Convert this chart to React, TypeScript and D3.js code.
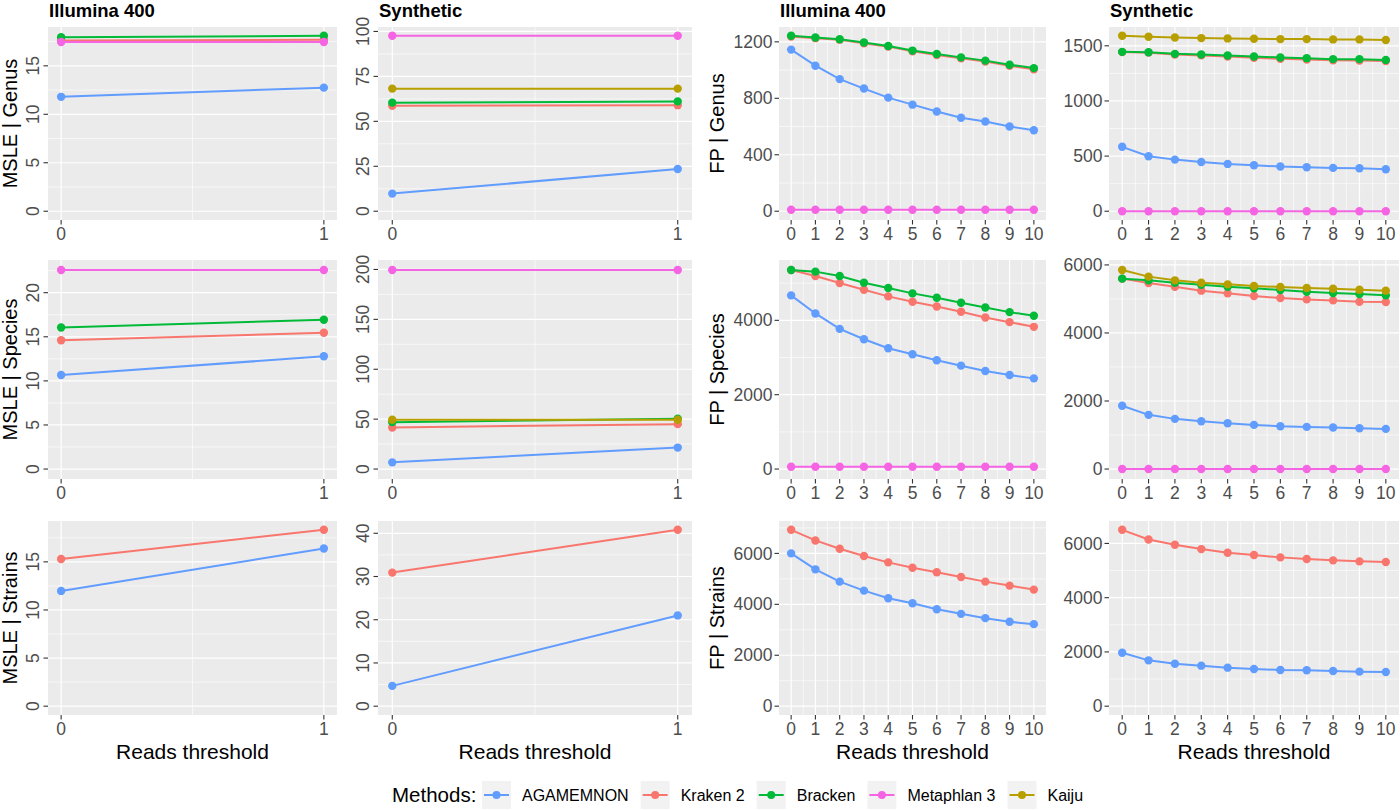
import React from 'react';
import * as d3 from 'd3';

const methods = ['AGAMEMNON', 'Kraken 2', 'Bracken', 'Metaphlan 3', 'Kaiju'];
const methodColors = ['#619CFF', '#F8766D', '#00BA38', '#F564E3', '#B79F00'];

const readsShort = [0, 1];
const readsLong = [0, 1, 2, 3, 4, 5, 6, 7, 8, 9, 10];

const colTitles = ['Illumina 400', 'Synthetic', 'Illumina 400', 'Synthetic'];
const levels = ['Genus', 'Species', 'Strains'];

// MSLE, genus
const msleGenusIllumina = {
  AGAMEMNON: [11.8, 12.75],
  'Kraken 2': [17.6, 17.7],
  Bracken: [17.95, 18.1],
  'Metaphlan 3': [17.45, 17.45]
};
const msleGenusSynthetic = {
  AGAMEMNON: [9.8, 23.5],
  'Kraken 2': [58.7, 59],
  Bracken: [60.4, 61.1],
  'Metaphlan 3': [97.6, 97.6],
  Kaiju: [68.2, 68.2]
};
// FP, genus
const fpGenusIllumina = {
  AGAMEMNON: [1145, 1031, 936, 869, 805, 755, 707, 662, 636, 600, 574],
  'Kraken 2': [1238, 1226, 1214, 1190, 1166, 1133, 1106, 1083, 1060, 1030, 1006],
  Bracken: [1243, 1231, 1219, 1195, 1171, 1138, 1114, 1090, 1067, 1038, 1014],
  'Metaphlan 3': [10, 10, 10, 10, 10, 10, 10, 10, 10, 10, 10]
};
const fpGenusSynthetic = {
  AGAMEMNON: [584, 499, 468, 447, 429, 417, 405, 399, 393, 390, 380],
  'Kraken 2': [1443, 1438, 1421, 1413, 1403, 1392, 1382, 1375, 1368, 1366, 1362],
  Bracken: [1445, 1442, 1427, 1421, 1412, 1403, 1394, 1388, 1379, 1379, 1372],
  'Metaphlan 3': [0, 0, 0, 0, 0, 0, 0, 0, 0, 0, 0],
  Kaiju: [1591, 1582, 1576, 1570, 1567, 1564, 1561, 1561, 1558, 1558, 1552]
};

// MSLE, species
const msleSpeciesIllumina = {
  AGAMEMNON: [10.66, 12.79],
  'Kraken 2': [14.61, 15.45],
  Bracken: [16.05, 16.93],
  'Metaphlan 3': [22.58, 22.58]
};
const msleSpeciesSynthetic = {
  AGAMEMNON: [6.7, 21.5],
  'Kraken 2': [41.7, 45],
  Bracken: [47, 50.4],
  'Metaphlan 3': [199.5, 199.5],
  Kaiju: [49.4, 49.4]
};
// FP, species
const fpSpeciesIllumina = {
  AGAMEMNON: [4671, 4185, 3771, 3492, 3249, 3087, 2925, 2781, 2637, 2529, 2439],
  'Kraken 2': [5355, 5193, 5004, 4824, 4644, 4500, 4374, 4230, 4077, 3951, 3825],
  Bracken: [5355, 5310, 5193, 5013, 4869, 4725, 4608, 4473, 4347, 4221, 4122],
  'Metaphlan 3': [60, 60, 60, 60, 60, 60, 60, 60, 60, 60, 60]
};
const fpSpeciesSynthetic = {
  AGAMEMNON: [1859, 1593, 1475, 1406, 1347, 1298, 1259, 1239, 1220, 1200, 1180],
  'Kraken 2': [5597, 5469, 5360, 5243, 5164, 5085, 5026, 4987, 4957, 4918, 4908],
  Bracken: [5597, 5547, 5478, 5419, 5360, 5311, 5262, 5213, 5173, 5144, 5105],
  'Metaphlan 3': [0, 0, 0, 0, 0, 0, 0, 0, 0, 0, 0],
  Kaiju: [5852, 5656, 5547, 5478, 5429, 5380, 5351, 5321, 5301, 5272, 5243]
};

// MSLE, strains
const msleStrainsIllumina = {
  AGAMEMNON: [11.98, 16.39],
  'Kraken 2': [15.3, 18.33]
};
const msleStrainsSynthetic = {
  AGAMEMNON: [4.7, 21.0],
  'Kraken 2': [30.9, 40.8]
};
// FP, strains
const fpStrainsIllumina = {
  AGAMEMNON: [6000, 5374, 4891, 4539, 4239, 4043, 3809, 3626, 3457, 3313, 3222],
  'Kraken 2': [6926, 6509, 6183, 5896, 5648, 5439, 5257, 5074, 4891, 4735, 4578]
};
const fpStrainsSynthetic = {
  AGAMEMNON: [1971, 1690, 1567, 1494, 1420, 1371, 1335, 1322, 1298, 1273, 1261],
  'Kraken 2': [6502, 6147, 5951, 5792, 5657, 5571, 5486, 5424, 5376, 5339, 5314]
};

// y tick labels per panel (row by row)
const yTicks = [
  [[0, 5, 10, 15], [0, 25, 50, 75, 100], [0, 400, 800, 1200], [0, 500, 1000, 1500]],
  [[0, 5, 10, 15, 20], [0, 50, 100, 150, 200], [0, 2000, 4000], [0, 2000, 4000, 6000]],
  [[0, 5, 10, 15], [0, 10, 20, 30, 40], [0, 2000, 4000, 6000], [0, 2000, 4000, 6000]]
];

const panelData = [
  [msleGenusIllumina, msleGenusSynthetic, fpGenusIllumina, fpGenusSynthetic],
  [msleSpeciesIllumina, msleSpeciesSynthetic, fpSpeciesIllumina, fpSpeciesSynthetic],
  [msleStrainsIllumina, msleStrainsSynthetic, fpStrainsIllumina, fpStrainsSynthetic]
];

// layout (px)
const W = 1400;
const H = 810;
const colBox = [[48, 337], [378, 692], [779, 1046], [1109, 1399]];
const rowBox = [[27, 220], [260, 479], [521, 715]];
const FONT = '"Liberation Sans", Arial, Helvetica, sans-serif';
const TICK_COL = '#4D4D4D';

function minors(ticks: number[], lo: number, hi: number) {
  const out: number[] = [];
  const step = ticks[1] - ticks[0];
  const ext = [ticks[0] - step, ...ticks, ticks[ticks.length - 1] + step];
  for (let i = 0; i < ext.length - 1; i++) {
    const m = (ext[i] + ext[i + 1]) / 2;
    if (m > lo && m < hi) out.push(m);
  }
  return out;
}

function Panel({ row, col }: { row: number; col: number }) {
  const [x0, x1] = colBox[col];
  const [y0, y1] = rowBox[row];
  const isMsle = col < 2;
  const xs = isMsle ? readsShort : readsLong;
  const series = panelData[row][col] as Record<string, number[]>;
  const ticks = yTicks[row][col];

  const xMin = d3.min(xs)!;
  const xMax = d3.max(xs)!;
  const xPad = (xMax - xMin) * 0.05;
  const x = d3.scaleLinear().domain([xMin - xPad, xMax + xPad]).range([x0, x1]);

  const all = Object.values(series).flat();
  const yMin = Math.min(0, d3.min(all)!);
  const yMax = d3.max(all)!;
  const yPad = (yMax - yMin) * 0.05;
  const y = d3.scaleLinear().domain([yMin - yPad, yMax + yPad]).range([y1, y0]);

  const xMinor = minors(xs, xMin - xPad, xMax + xPad);
  const yMinor = minors(ticks, yMin - yPad, yMax + yPad);

  const line = d3
    .line<number>()
    .x((_, i) => x(xs[i]))
    .y(d => y(d));

  const yTitle = (isMsle ? 'MSLE | ' : 'FP | ') + levels[row];
  const titleX = col === 0 ? 16.5 : col === 2 ? 724 : null;

  return (
    <g>
      <rect x={x0} y={y0} width={x1 - x0} height={y1 - y0} fill="#EBEBEB" />
      {yMinor.map(v => (
        <line key={'ym' + v} x1={x0} x2={x1} y1={y(v)} y2={y(v)} stroke="#fff" strokeWidth={0.6} />
      ))}
      {xMinor.map(v => (
        <line key={'xm' + v} x1={x(v)} x2={x(v)} y1={y0} y2={y1} stroke="#fff" strokeWidth={0.6} />
      ))}
      {ticks.map(v => (
        <line key={'yg' + v} x1={x0} x2={x1} y1={y(v)} y2={y(v)} stroke="#fff" strokeWidth={1.2} />
      ))}
      {xs.map(v => (
        <line key={'xg' + v} x1={x(v)} x2={x(v)} y1={y0} y2={y1} stroke="#fff" strokeWidth={1.2} />
      ))}

      {methods.map((m, mi) =>
        series[m] ? (
          <g key={m}>
            <path d={line(series[m]) || ''} fill="none" stroke={methodColors[mi]} strokeWidth={2} />
            {series[m].map((v, i) => (
              <circle key={i} cx={x(xs[i])} cy={y(v)} r={4.2} fill={methodColors[mi]} />
            ))}
          </g>
        ) : null
      )}

      {/* y axis */}
      {ticks.map(v => (
        <g key={'yt' + v}>
          <line x1={x0 - 4.5} x2={x0} y1={y(v)} y2={y(v)} stroke="#333" strokeWidth={1.1} />
          {isMsle ? (
            <text
              transform={`translate(${x0 - 9.5},${y(v)}) rotate(-90)`}
              textAnchor="middle"
              fontSize={17.5}
              fill={TICK_COL}
            >
              {v}
            </text>
          ) : (
            <text x={x0 - 6.5} y={y(v)} dy="0.35em" textAnchor="end" fontSize={17.5} fill={TICK_COL}>
              {v}
            </text>
          )}
        </g>
      ))}

      {/* x axis */}
      {xs.map(v => (
        <g key={'xt' + v}>
          <line x1={x(v)} x2={x(v)} y1={y1} y2={y1 + 4.5} stroke="#333" strokeWidth={1.1} />
          <text x={x(v)} y={y1 + 19.5} textAnchor="middle" fontSize={17.5} fill={TICK_COL}>
            {v}
          </text>
        </g>
      ))}

      {titleX !== null && (
        <text
          transform={`translate(${titleX},${(y0 + y1) / 2}) rotate(-90)`}
          textAnchor="middle"
          fontSize={20}
          fill="#000"
        >
          {yTitle}
        </text>
      )}
      {row === 0 && (
        <text x={x0 + 1} y={16.5} fontSize={18.5} fontWeight="bold" fill="#000">
          {colTitles[col]}
        </text>
      )}
      {row === 2 && (
        <text x={(x0 + x1) / 2} y={759} textAnchor="middle" fontSize={21} fill="#000">
          Reads threshold
        </text>
      )}
    </g>
  );
}

function Legend() {
  const ctx = document.createElement('canvas').getContext('2d')!;
  ctx.font = `16px ${FONT}`;
  const items: { m: string; c: string; kx: number }[] = [];
  let cursor = 482;
  methods.forEach((m, i) => {
    items.push({ m, c: methodColors[i], kx: cursor });
    cursor += 29 + 11 + ctx.measureText(m).width + 12;
  });
  return (
    <g>
      <text x={392} y={802} fontSize={20.5} fill="#000">
        Methods:
      </text>
      {items.map(it => (
        <g key={it.m}>
          <rect x={it.kx} y={781} width={29} height={28} fill="#F2F2F2" />
          <line x1={it.kx + 2} x2={it.kx + 27} y1={795} y2={795} stroke={it.c} strokeWidth={2} />
          <circle cx={it.kx + 14.5} cy={795} r={4} fill={it.c} />
          <text x={it.kx + 40} y={800.8} fontSize={16} fill="#000">
            {it.m}
          </text>
        </g>
      ))}
    </g>
  );
}

export default function App() {
  const cells: { row: number; col: number }[] = [];
  for (let r = 0; r < 3; r++) for (let c = 0; c < 4; c++) cells.push({ row: r, col: c });
  return (
    <svg
      width={W}
      height={H}
      style={{ position: 'absolute', left: 0, top: 0, background: '#fff', fontFamily: FONT }}
    >
      <rect width={W} height={H} fill="#fff" />
      {cells.map(c => (
        <Panel key={`${c.row}-${c.col}`} row={c.row} col={c.col} />
      ))}
      <Legend />
    </svg>
  );
}
